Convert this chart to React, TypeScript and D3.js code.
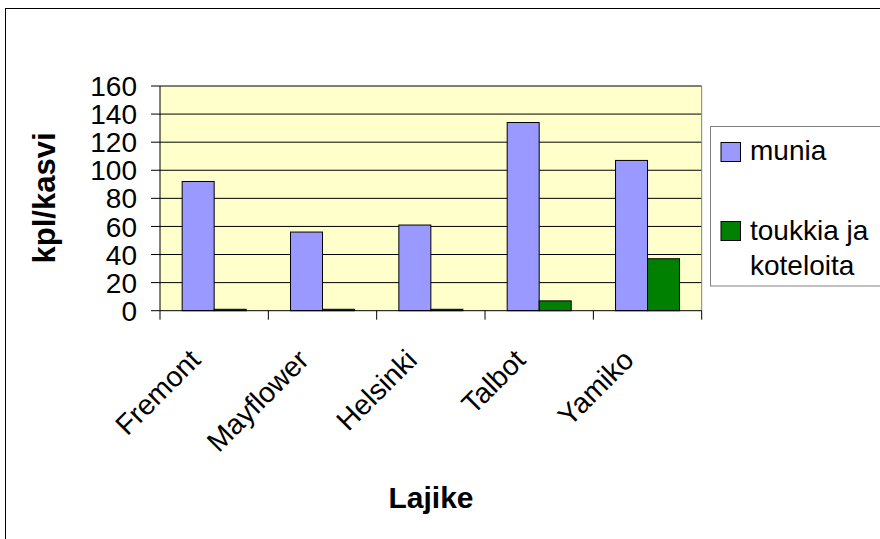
import React from "react";
import * as d3 from "d3";

const categories = ["Fremont", "Mayflower", "Helsinki", "Talbot", "Yamiko"];
const munia = [92, 56, 61, 134, 107];
const toukkia = [1, 1, 1, 7, 37];
const yTicks = [0, 20, 40, 60, 80, 100, 120, 140, 160];
const seriesNames = ["munia", "toukkia ja koteloita"];
const seriesColors = ["#9999FF", "#008000"];

const W = 880;
const H = 539;
const FONT = "'Liberation Sans', Arial, sans-serif";

export default function App() {
  const left = 160, right = 701.7, top = 86, bottom = 310.7;
  const x = d3.scaleBand<string>().domain(categories).range([left, right]).padding(0);
  const y = d3.scaleLinear().domain([0, 160]).range([bottom, top]);
  const barW = 32;
  const series = [munia, toukkia];

  return (
    <svg width={W} height={H} style={{ position: "absolute", left: 0, top: 0, background: "#fff" }}>
      <rect x={5.5} y={8.5} width={900} height={600} fill="#fff" stroke="#000" strokeWidth={1} />
      <rect x={left} y={top} width={right - left} height={bottom - top} fill="#FFFFCC" />
      {yTicks.filter((t) => t > 0).map((t) => (
        <line key={t} x1={left} x2={right} y1={y(t)} y2={y(t)} stroke="#000" strokeWidth={1} />
      ))}
      <line x1={right} x2={right} y1={top} y2={bottom} stroke="#808080" strokeWidth={1} />
      {categories.map((c, i) =>
        series.map((s, k) => {
          const cx = x(c)! + x.bandwidth() / 2;
          const x0 = cx - barW + k * barW;
          return (
            <rect
              key={c + k}
              x={x0}
              y={y(s[i])}
              width={barW}
              height={y(0) - y(s[i])}
              fill={seriesColors[k]}
              stroke="#000"
              strokeWidth={1}
            />
          );
        })
      )}
      <line x1={left} x2={left} y1={top} y2={bottom} stroke="#000" strokeWidth={1} />
      <line x1={left} x2={right} y1={bottom} y2={bottom} stroke="#000" strokeWidth={1} />
      {yTicks.map((t) => (
        <g key={t}>
          <line x1={left - 9} x2={left} y1={y(t)} y2={y(t)} stroke="#000" />
          <text x={137} y={y(t)} dy="0.36em" textAnchor="end" fontFamily={FONT} fontSize={28}>
            {t}
          </text>
        </g>
      ))}
      {[...categories.map((c) => x(c)!), right].map((v, i) => (
        <line key={i} x1={v} x2={v} y1={bottom} y2={bottom + 9} stroke="#000" />
      ))}
      {categories.map((c) => {
        const cx = x(c)! + x.bandwidth() / 2;
        return (
          <text
            key={c}
            transform={`translate(${cx - 12},${bottom + 51}) rotate(-45)`}
            textAnchor="end"
            fontFamily={FONT}
            fontSize={28.5}
          >
            {c}
          </text>
        );
      })}
      <text x={431} y={508} textAnchor="middle" fontFamily={FONT} fontSize={30} fontWeight="bold">
        Lajike
      </text>
      <text
        transform={`translate(61,198) rotate(-90)`}
        textAnchor="middle"
        fontFamily={FONT}
        fontSize={31}
        fontWeight="bold"
        dy="-0.21em"
      >
        kpl/kasvi
      </text>
      <rect x={710.5} y={126.5} width={200} height={159.5} fill="#fff" stroke="#808080" strokeWidth={1} />
      <rect x={721} y={142.5} width={19.5} height={19} fill={seriesColors[0]} stroke="#000" />
      <text x={750} y={160} fontFamily={FONT} fontSize={28}>{seriesNames[0]}</text>
      <rect x={721} y={221.5} width={19.5} height={19} fill={seriesColors[1]} stroke="#000" />
      <text x={750} y={240} fontFamily={FONT} fontSize={28}>toukkia ja</text>
      <text x={750} y={275} fontFamily={FONT} fontSize={28}>koteloita</text>
    </svg>
  );
}
